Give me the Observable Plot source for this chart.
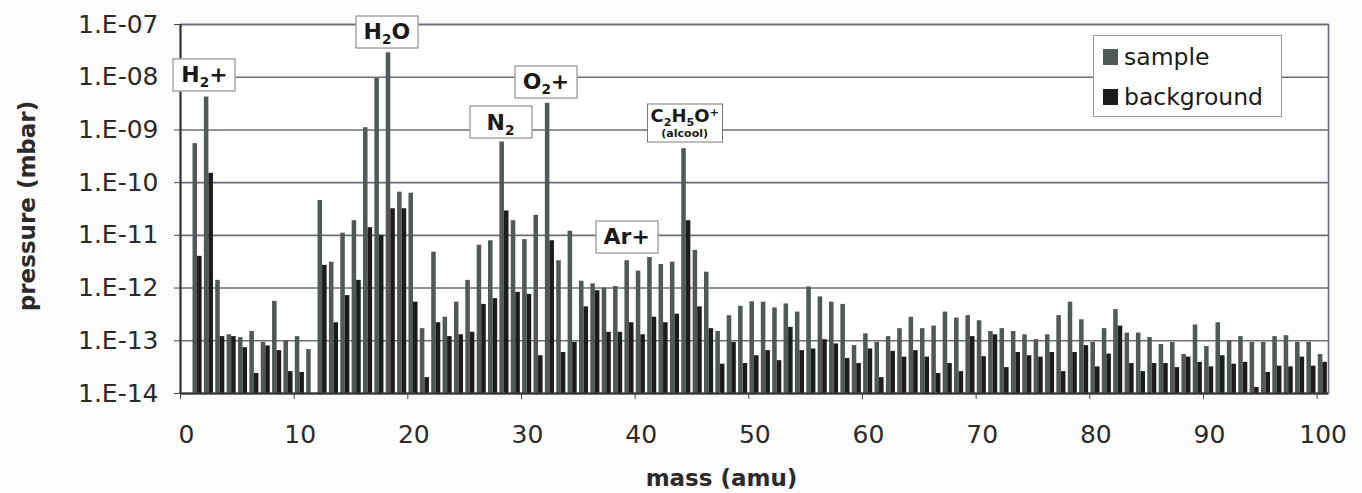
<!DOCTYPE html>
<html>
<head>
<meta charset="utf-8">
<script src="https://cdn.jsdelivr.net/npm/d3@7"></script>
<script src="https://cdn.jsdelivr.net/npm/@observablehq/plot@0.6"></script>
<style>
  body { margin: 0; background: #fcfcfc; }
  #wrap { position: relative; width: 1362px; height: 493px; font-family: "DejaVu Sans", sans-serif; }
  .anno { position: absolute; transform: translate(-50%, -50%); background: #fff; border: 1.5px solid #7a7a7a;
          font-weight: bold; font-size: 22px; color: #1a1a1a; box-sizing: border-box; width: 63px; height: 33px;
          display: flex; flex-direction: column; align-items: center; justify-content: center; line-height: 1; }
  .anno .line { white-space: nowrap; display: block; }
  .anno sub { font-size: 0.62em; vertical-align: -0.4em; line-height: 0; }
  .anno sup { font-size: 0.62em; vertical-align: 0.5em; line-height: 0; }
  .anno.big { width: 76px; height: 39px; font-size: 18px; }
  .anno .small { font-size: 11px; margin-top: 3px; }
  #legend { position: absolute; left: 1093px; top: 35px; width: 189px; height: 82px; box-sizing: border-box;
            background: #fff; border: 1px solid #9a9a9a; font-size: 23.5px; color: #1a1a1a; }
  #legend .item { position: absolute; left: 9px; display: flex; align-items: center; }
  #legend .sw { width: 15px; height: 16px; margin-right: 6px; }
</style>
</head>
<body>
<div id="wrap"></div>
<script>
// categories
const masses = d3.range(1, 101);
const seriesNames = ["sample", "background"];
const seriesColors = ["#505958", "#1c1c1c"];

// series values (mbar), mass 1..100
const sampleValues = [
  5.5e-10, 4.2e-9, 1.4e-12, 1.3e-13, 1.15e-13, 1.5e-13, 9.3e-14, 5.6e-13, 1.0e-13, 1.2e-13,
  6.8e-14, 4.6e-11, 3.1e-12, 1.1e-11, 1.9e-11, 1.1e-9, 9.5e-9, 2.9e-8, 6.6e-11, 6.3e-11,
  1.7e-13, 4.8e-12, 2.8e-13, 5.4e-13, 1.4e-12, 6.5e-12, 7.9e-12, 5.9e-10, 1.9e-11, 8.3e-12,
  2.4e-11, 3.2e-9, 3.3e-12, 1.2e-11, 1.35e-12, 1.2e-12, 1.0e-12, 1.07e-12, 3.3e-12, 2.1e-12,
  3.8e-12, 2.8e-12, 3.1e-12, 4.4e-10, 5.2e-12, 2.0e-12, 1.5e-13, 3.0e-13, 4.5e-13, 5.5e-13,
  5.4e-13, 4.2e-13, 5.0e-13, 3.5e-13, 1.05e-12, 6.8e-13, 5.4e-13, 4.9e-13, 8.1e-14, 1.35e-13,
  9.3e-14, 1.2e-13, 1.7e-13, 2.8e-13, 1.7e-13, 1.9e-13, 3.5e-13, 2.7e-13, 3.0e-13, 2.4e-13,
  1.5e-13, 1.7e-13, 1.5e-13, 1.3e-13, 1.05e-13, 1.3e-13, 3.0e-13, 5.4e-13, 2.5e-13, 9.3e-14,
  1.7e-13, 3.9e-13, 1.4e-13, 1.4e-13, 1.15e-13, 8.5e-14, 9.3e-14, 5.5e-14, 2.0e-13, 7.8e-14,
  2.2e-13, 1.0e-13, 1.2e-13, 9.3e-14, 9.3e-14, 1.2e-13, 1.25e-13, 9.3e-14, 9.3e-14, 5.5e-14
];
const backgroundValues = [
  4.0e-12, 1.5e-10, 1.2e-13, 1.2e-13, 7.4e-14, 2.4e-14, 8.0e-14, 6.5e-14, 2.6e-14, 2.5e-14,
  1.0e-14, 2.7e-12, 2.2e-13, 7.2e-13, 1.4e-12, 1.4e-11, 1.0e-11, 3.2e-11, 3.2e-11, 5.4e-13,
  2.0e-14, 2.2e-13, 1.2e-13, 1.3e-13, 1.45e-13, 4.9e-13, 6.3e-13, 2.9e-11, 8.3e-13, 7.6e-13,
  5.2e-14, 7.9e-12, 6.0e-14, 9.3e-14, 4.4e-13, 8.9e-13, 1.45e-13, 1.45e-13, 2.2e-13, 1.3e-13,
  2.8e-13, 2.2e-13, 3.2e-13, 1.9e-11, 4.4e-13, 1.7e-13, 3.6e-14, 9.3e-14, 3.7e-14, 5.2e-14,
  6.5e-14, 4.2e-14, 1.8e-13, 6.5e-14, 7.0e-14, 1.05e-13, 8.7e-14, 4.6e-14, 3.7e-14, 7.0e-14,
  2.0e-14, 6.3e-14, 4.9e-14, 6.5e-14, 4.9e-14, 2.4e-14, 3.7e-14, 2.6e-14, 1.2e-13, 5.0e-14,
  1.3e-13, 3.1e-14, 6.0e-14, 5.2e-14, 4.9e-14, 6.0e-14, 2.6e-14, 6.0e-14, 8.1e-14, 3.2e-14,
  5.6e-14, 1.9e-13, 3.7e-14, 2.6e-14, 3.7e-14, 3.7e-14, 3.1e-14, 4.9e-14, 3.9e-14, 3.2e-14,
  5.2e-14, 3.6e-14, 3.9e-14, 1.3e-14, 2.5e-14, 3.3e-14, 3.2e-14, 4.9e-14, 3.3e-14, 3.9e-14
];

// tick labels
const xTicks = [0, 10, 20, 30, 40, 50, 60, 70, 80, 90, 100];
const yTicks = [1e-14, 1e-13, 1e-12, 1e-11, 1e-10, 1e-9, 1e-8, 1e-7];

// peak annotations
const annoLabels = [
  "<span class='line'>H<sub>2</sub>+</span>",
  "<span class='line'>H<sub>2</sub>O</span>",
  "<span class='line'>N<sub>2</sub></span>",
  "<span class='line'>O<sub>2</sub>+</span>",
  "<span class='line'>C<sub>2</sub>H<sub>5</sub>O<sup>+</sup></span><span class='line small'>(alcool)</span>",
  "<span class='line'>Ar+</span>"
];
const annoMass = [2.15, 18.2, 28.2, 32.2, 44.4, 39.3];
const annoPressure = [1.1e-8, 7.1e-8, 1.38e-9, 8.1e-9, 1.35e-9, 9.3e-12];
const annoBig = [false, false, false, false, true, false];

const rows = [];
masses.forEach((m, i) => {
  rows.push({mass: m, series: "sample", value: sampleValues[i]});
  rows.push({mass: m, series: "background", value: backgroundValues[i]});
});
const slot = {sample: [0.1, 0.5], background: [0.5, 0.9]};

const chart = Plot.plot({
  width: 1362,
  height: 493,
  marginLeft: 180,
  marginRight: 34,
  marginTop: 24,
  marginBottom: 100,
  x: {domain: [0, 101]},
  y: {type: "log", domain: [1e-14, 1e-7]},
  color: {domain: seriesNames, range: seriesColors},
  style: {fontFamily: "DejaVu Sans", fontSize: "25px", background: "#fcfcfc", color: "#222"},
  marks: [
    Plot.frame({fill: "#ffffff", stroke: "none"}),
    Plot.gridY(yTicks, {stroke: "#6c6c78", strokeOpacity: 1, strokeWidth: 1.6}),
    Plot.rectY(rows, {
      x1: d => d.mass + slot[d.series][0],
      x2: d => d.mass + slot[d.series][1],
      y1: 1e-14,
      y2: "value",
      fill: "series"
    }),
    Plot.frame({stroke: "#6c6c78", strokeWidth: 1.6}),
    Plot.ruleX([0], {stroke: "#333", strokeWidth: 2}),
    Plot.ruleY([1e-14], {stroke: "#333", strokeWidth: 2}),
    Plot.axisY(yTicks, {
      tickSize: 6, tickPadding: 16, stroke: "#444", fontSize: 25, fill: "#2a2a2a",
      tickFormat: d => "1.E-" + String(Math.round(-Math.log10(d))).padStart(2, "0"),
      label: null
    }),
    Plot.axisX(xTicks, {tickSize: 6, stroke: "#444", fill: "none", label: null}),
    Plot.axisX(xTicks, {tickSize: 0, tickPadding: 32, dx: 6, fontSize: 25, fill: "#2a2a2a", label: null}),
    Plot.text(["pressure (mbar)"], {frameAnchor: "left", textAnchor: "middle", rotate: -90, dx: -153, dy: -3, fontWeight: "bold", fontSize: 23, fill: "#2a2a2a"}),
    Plot.text(["mass (amu)"], {frameAnchor: "bottom", dy: 92, dx: -33, fontWeight: "bold", fontSize: 23, fill: "#2a2a2a"})
  ]
});

const wrap = document.getElementById("wrap");
wrap.appendChild(chart);

const sx = chart.scale("x"), sy = chart.scale("y");
annoLabels.forEach((lab, i) => {
  const div = document.createElement("div");
  div.className = "anno" + (annoBig[i] ? " big" : "");
  div.innerHTML = lab;
  div.style.left = sx.apply(annoMass[i]) + "px";
  div.style.top = sy.apply(annoPressure[i]) + "px";
  wrap.appendChild(div);
});

const legend = document.createElement("div");
legend.id = "legend";
seriesNames.forEach((name, i) => {
  const item = document.createElement("div");
  item.className = "item";
  item.style.top = (i === 0 ? 7 : 47) + "px";
  item.innerHTML = `<span class="sw" style="background:${seriesColors[i]}"></span><span>${name}</span>`;
  legend.appendChild(item);
});
wrap.appendChild(legend);
</script>
</body>
</html>
